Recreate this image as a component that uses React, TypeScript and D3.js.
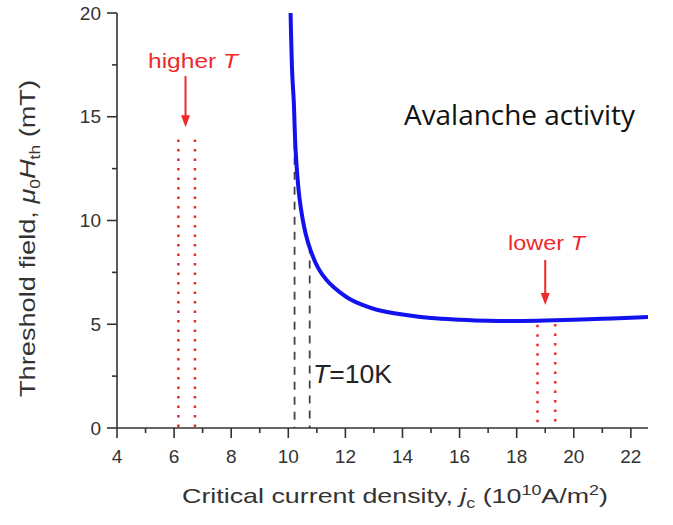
import React from "react";
import * as d3 from "d3";

const curveJ = [10.08, 10.14, 10.19, 10.26, 10.4, 10.61, 10.81, 11.03, 11.2, 11.45, 11.8, 12.15, 12.6, 13.1, 14, 15, 16, 17, 18, 19, 20, 21, 22, 22.6];
const curveH = [20, 17.0, 15.8, 13.3, 11.0, 9.35, 8.45, 7.75, 7.38, 6.97, 6.55, 6.22, 5.93, 5.7, 5.47, 5.3, 5.22, 5.17, 5.16, 5.18, 5.22, 5.26, 5.31, 5.35];

const xMajorTicks = [4, 6, 8, 10, 12, 14, 16, 18, 20, 22];
const xMinorTicks = [5, 7, 9, 11, 13, 15, 17, 19, 21];
const yMajorTicks = [0, 5, 10, 15, 20];
const yMinorTicks = [2.5, 7.5, 12.5, 17.5];

const blackDashX = [10.22, 10.75];
const blackDashTop = [13.8, 8.8];
const redLeftX = [6.15, 6.73];
const redLeftTop = [13.9, 13.9];
const redRightX = [18.73, 19.35];
const redRightTop = [5.17, 5.2];

const arrowHigher = { x: 6.4, from: 16.96, to: 14.5 };
const arrowLower = { x: 19.0, from: 8.1, to: 5.93 };

const W = 673;
const H = 525;
const RED = "#ee2a2a";
const AX = "#333";

export default function App() {
  const x = d3.scaleLinear().domain([4, 22.6]).range([117, 648]);
  const y = d3.scaleLinear().domain([0, 20]).range([428, 13]);
  const pts: [number, number][] = curveJ.map((j, i) => [j, curveH[i]]);
  const line = d3
    .line<[number, number]>()
    .x((d) => x(d[0]))
    .y((d) => y(d[1]))
    .curve(d3.curveCatmullRom.alpha(0.5));

  const arrow = (a: { x: number; from: number; to: number }) => {
    const ax = x(a.x);
    const y0 = y(a.from);
    const y1 = y(a.to);
    return (
      <g>
        <line x1={ax} x2={ax} y1={y0} y2={y1 - 10} stroke={RED} strokeWidth={2} />
        <path d={`M${ax - 4.5},${y1 - 12} L${ax + 4.5},${y1 - 12} L${ax},${y1} Z`} fill={RED} />
      </g>
    );
  };

  return (
    <svg width={W} height={H} style={{ position: "absolute", left: 0, top: 0, background: "#fff" }} fontFamily="'Liberation Sans', Arial, sans-serif">
      {redLeftX.map((v, i) => (
        <line key={"rl" + i} x1={x(v)} x2={x(v)} y1={y(redLeftTop[i])} y2={y(0)} stroke={RED} strokeWidth={2.5} strokeDasharray="2.5,7" />
      ))}
      {redRightX.map((v, i) => (
        <line key={"rr" + i} x1={x(v)} x2={x(v)} y1={y(redRightTop[i]) + 4} y2={y(0)} stroke={RED} strokeWidth={2.5} strokeDasharray="2.5,7" />
      ))}
      {blackDashX.map((v, i) => (
        <line key={"bd" + i} x1={x(v)} x2={x(v)} y1={y(blackDashTop[i])} y2={y(0)} stroke="#444" strokeWidth={1.8} strokeDasharray="8,7" />
      ))}

      <path d={line(pts) || ""} fill="none" stroke="#1212ee" strokeWidth={4} />

      <line x1={x(4)} x2={x(22.6)} y1={y(0)} y2={y(0)} stroke={AX} strokeWidth={1.6} />
      <line x1={x(4)} x2={x(4)} y1={y(0)} y2={y(20)} stroke={AX} strokeWidth={1.6} />
      {xMajorTicks.map((t) => (
        <g key={"xm" + t}>
          <line x1={x(t)} x2={x(t)} y1={y(0)} y2={y(0) + 10} stroke={AX} strokeWidth={1.6} />
          <text x={x(t)} y={463} textAnchor="middle" fontSize={19} fill={AX}>{t}</text>
        </g>
      ))}
      {xMinorTicks.map((t) => (
        <line key={"xn" + t} x1={x(t)} x2={x(t)} y1={y(0)} y2={y(0) + 5} stroke={AX} strokeWidth={1.6} />
      ))}
      {yMajorTicks.map((t) => (
        <g key={"ym" + t}>
          <line x1={x(4) - 10} x2={x(4)} y1={y(t)} y2={y(t)} stroke={AX} strokeWidth={1.6} />
          <text x={101} y={y(t) + 6.5} textAnchor="end" fontSize={19} fill={AX}>{t}</text>
        </g>
      ))}
      {yMinorTicks.map((t) => (
        <line key={"yn" + t} x1={x(4) - 5} x2={x(4)} y1={y(t)} y2={y(t)} stroke={AX} strokeWidth={1.6} />
      ))}

      {arrow(arrowHigher)}
      {arrow(arrowLower)}
      <text x={148} y={68} fontSize={20} fill={RED} textLength={90} lengthAdjust="spacingAndGlyphs">
        higher <tspan fontStyle="italic">T</tspan>
      </text>
      <text x={508} y={250} fontSize={20} fill={RED} textLength={77} lengthAdjust="spacingAndGlyphs">
        lower <tspan fontStyle="italic">T</tspan>
      </text>
      <text x={313} y={383} fontSize={25} fill="#222" textLength={79} lengthAdjust="spacingAndGlyphs">
        <tspan fontStyle="italic">T</tspan>=10K
      </text>
      <text x={404} y={125} fontSize={28} fill="#111" fontFamily="'Open Sans', sans-serif" textLength={231} lengthAdjust="spacingAndGlyphs">
        Avalanche activity
      </text>

      <text x={182} y={503} fontSize={21} fill={AX} textLength={426} lengthAdjust="spacingAndGlyphs">
        Critical current density,  <tspan fontStyle="italic">j</tspan>
        <tspan fontSize={14} dy={5}>c</tspan>
        <tspan dy={-5}> (10</tspan>
        <tspan fontSize={14} dy={-8}>10</tspan>
        <tspan dy={8}>A/m</tspan>
        <tspan fontSize={14} dy={-8}>2</tspan>
        <tspan dy={8}>)</tspan>
      </text>
      <text transform="translate(35,397) rotate(-90)" x={0} y={0} fontSize={22} fill={AX} textLength={317} lengthAdjust="spacingAndGlyphs">
        Threshold field,  <tspan fontStyle="italic">μ</tspan>
        <tspan fontSize={14} dy={5}>0</tspan>
        <tspan dy={-5} fontStyle="italic">H</tspan>
        <tspan fontSize={14} dy={5}>th</tspan>
        <tspan dy={-5}> (mT)</tspan>
      </text>
    </svg>
  );
}
